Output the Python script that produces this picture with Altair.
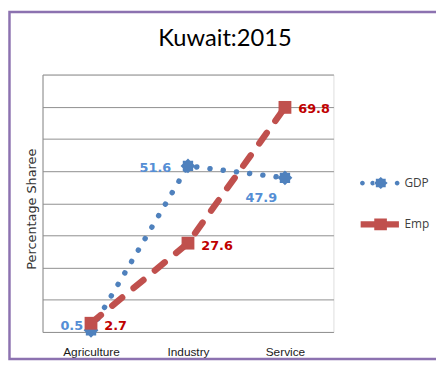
import altair as alt
import pandas as pd

# ---- data ----
categories = ["Agriculture", "Industry", "Service"]
series_names = ["GDP", "Emp"]
gdp_values = [0.5, 51.6, 47.9]
emp_values = [2.7, 27.6, 69.8]
y_grid_values = [0, 10, 20, 30, 40, 50, 60, 70, 80]

rows = []
for s, vals in zip(series_names, [gdp_values, emp_values]):
    for c, v in zip(categories, vals):
        rows.append({"Sector": c, "Series": s, "Value": v})
df = pd.DataFrame(rows)

# ---- styles ----
BLUE = "#4F81BD"
RED = "#C0504D"
BLUE_LBL = "#558ED5"
RED_LBL = "#C00000"
GRID = "#8E8E8E"
PURPLE = "#8C72B0"

# 8-point blob marker (diamond + square), unit box [-1, 1]
STAR = "M0,-1L1,0L0,1L-1,0Z M-0.7,-0.7L0.7,-0.7L0.7,0.7L-0.7,0.7Z"


def circ(cx, r):
    return (f"M{cx - r},0A{r},{r} 0 1,0 {cx + r},0A{r},{r} 0 1,0 {cx - r},0Z")


GDP_LEG = (circ(-0.88, 0.12) + circ(-0.36, 0.12) + circ(0.88, 0.12)
           + "M0.05,-0.3L0.4,0L0.05,0.3L-0.3,0Z"
           + "M-0.2,-0.22L0.3,-0.22L0.3,0.22L-0.2,0.22Z")
EMP_LEG = ("M-0.97,-0.16L0.97,-0.16L0.97,0.16L-0.97,0.16Z"
           "M-0.28,-0.3L0.36,-0.3L0.36,0.3L-0.28,0.3Z")

x_enc = alt.X(
    "Sector:N",
    sort=categories,
    scale=alt.Scale(type="point", domain=categories, padding=0.5),
    axis=alt.Axis(title=None, domain=False, ticks=False, labelAngle=0,
                  labelPadding=15, labelFont="Liberation Sans",
                  labelFontSize=12, labelColor="#1a1a1a"),
)
y_enc = alt.Y(
    "Value:Q",
    scale=alt.Scale(domain=[0, 80], nice=False, zero=True),
    axis=alt.Axis(title="Percentage Sharee", values=y_grid_values, labels=False,
                  ticks=False, domain=True, domainColor=GRID, domainWidth=1,
                  grid=True, gridColor=GRID, gridWidth=1,
                  titleFont="DejaVu Sans", titleFontSize=13, titleFontWeight="normal",
                  titleColor="#333333", titlePadding=4, titleY=136),
)

base = alt.Chart(df).encode(x=x_enc, y=y_enc)

gdp = base.transform_filter(alt.datum.Series == "GDP")
emp = base.transform_filter(alt.datum.Series == "Emp")

gdp_line = gdp.mark_line(color=BLUE, strokeWidth=5.5, strokeDash=[0.1, 13.4],
                         strokeCap="round")
gdp_pts = gdp.mark_point(shape=STAR, size=225, filled=True, color=BLUE, opacity=1)
emp_line = emp.mark_line(color=RED, strokeWidth=6.5, strokeDash=[13, 15],
                         strokeCap="round")
emp_pts = emp.mark_point(shape="square", size=169, filled=True, color=RED, opacity=1)


def lbl(series, cat, dx, dy, align, color):
    return base.transform_filter(
        (alt.datum.Series == series) & (alt.datum.Sector == cat)
    ).mark_text(dx=dx, dy=dy, align=align, baseline="middle", font="DejaVu Sans",
                fontWeight="bold", fontSize=13, color=color).encode(
        text=alt.Text("Value:Q", format=".1f"))


labels = [
    lbl("GDP", "Agriculture", -8, -4, "right", BLUE_LBL),
    lbl("GDP", "Industry", -17, 2, "right", BLUE_LBL),
    lbl("GDP", "Service", -24, 20, "center", BLUE_LBL),
    lbl("Emp", "Agriculture", 13.5, 3, "left", RED_LBL),
    lbl("Emp", "Industry", 13.5, 3, "left", RED_LBL),
    lbl("Emp", "Service", 13.5, 2, "left", RED_LBL),
]

leg_props = dict(orient="none", legendX=322, legendY=90, title=None,
                 symbolSize=1600, symbolStrokeWidth=0, labelFont="Open Sans",
                 labelFontSize=12, labelColor="#404040", rowPadding=16,
                 labelOffset=5, padding=0)

legend_layer = base.transform_filter("false").mark_point(filled=True, opacity=1).encode(
    color=alt.Color("Series:N", scale=alt.Scale(domain=series_names, range=[BLUE, RED]),
                    legend=alt.Legend(**leg_props)),
    shape=alt.Shape("Series:N", scale=alt.Scale(domain=series_names, range=[GDP_LEG, EMP_LEG]),
                    legend=alt.Legend(**leg_props)),
)

frame = alt.Chart(alt.Data(values=[{"f": 1}])).mark_rect(
    filled=False, color=PURPLE, strokeWidth=2.5
).encode(x=alt.value(-33.5), x2=alt.value(420), y=alt.value(-63.5), y2=alt.value(288.5))

chart = alt.layer(
    frame, gdp_line, gdp_pts, emp_line, emp_pts, *labels, legend_layer
).properties(
    width=295,
    height=261,
    padding={"left": 35, "top": 65, "right": 104, "bottom": 29},
    autosize=alt.AutoSizeParams(type="none"),
    title=alt.TitleParams(text="Kuwait:2015", font="Lato", fontSize=24,
                          fontWeight="normal", color="#000000", anchor="middle",
                          frame="group", dx=37.5, offset=-59.75,
                          baseline="alphabetic"),
).configure_view(strokeWidth=0).configure(background="white")

chart.save("out.html", embed_options={"renderer": "svg", "actions": False})
